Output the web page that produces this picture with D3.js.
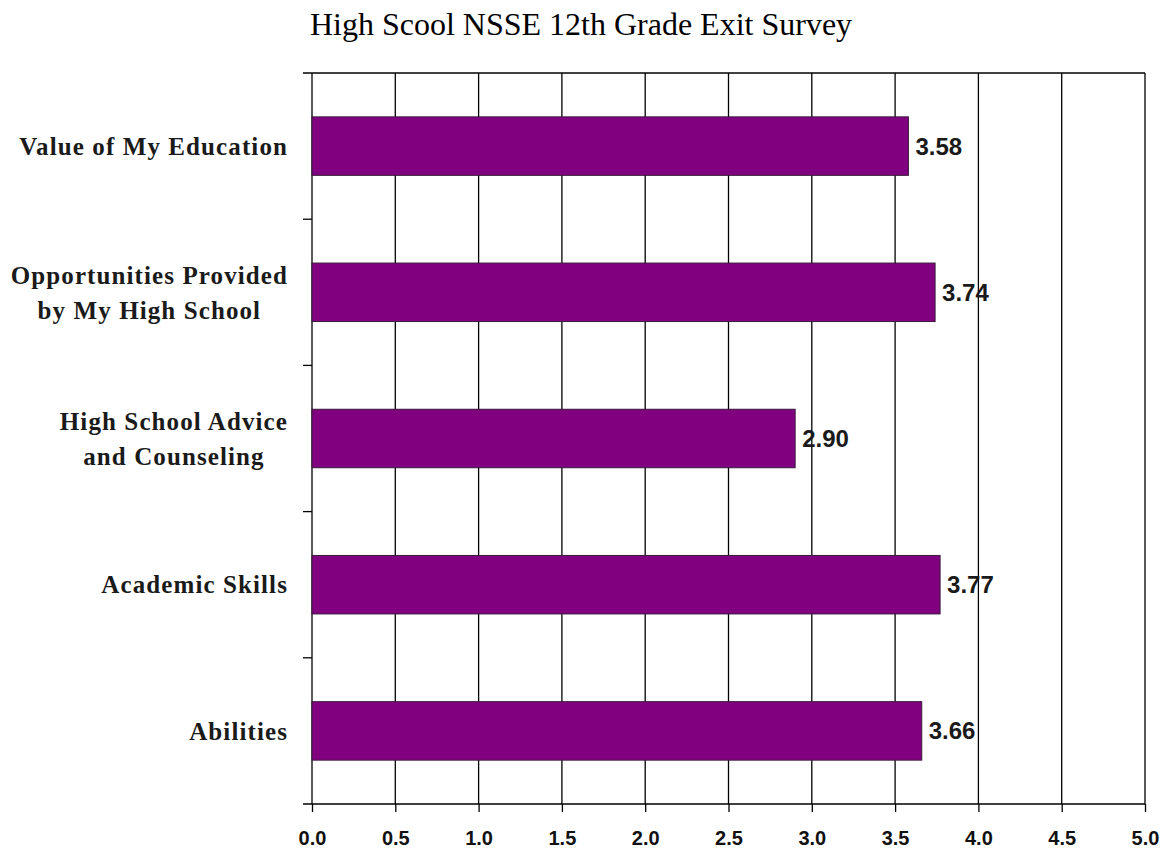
<html>
  <head>
    <script src="https://d3js.org/d3.v7.min.js"></script>
    <style>
      body { margin: 0; background: #fff; }
    </style>
  </head>
  <body>
    <div id="vis"></div>
  </body>
  <script>
    // Chart data
    var categories = [
      ["Value of My Education"],
      ["Opportunities Provided", "by My High School"],
      ["High School Advice", "and Counseling"],
      ["Academic Skills"],
      ["Abilities"]
    ]
    var values = [3.58, 3.74, 2.90, 3.77, 3.66]
    var xTicks = [0, 0.5, 1, 1.5, 2, 2.5, 3, 3.5, 4, 4.5, 5]
    var title = "High Scool NSSE 12th Grade Exit Survey"

    var width = 1167
    var height = 852
    var margin = {top: 73, right: 22, bottom: 48, left: 312}

    var svg = d3.select("#vis")
      .append("svg")
      .attr("width", width)
      .attr("height", height)

    var x = d3.scaleLinear()
      .domain([0, 5])
      .range([margin.left, 1145])

    var y = d3.scaleBand()
      .domain(d3.range(categories.length))
      .range([margin.top, 804])
      .paddingInner(0.6)
      .paddingOuter(0.3)

    // band edges for left ticks
    var step = (804 - margin.top) / categories.length

    // Title
    svg.append("text")
      .text(title)
      .attr("x", 581)
      .attr("y", 35)
      .attr("text-anchor", "middle")
      .attr("font-family", '"Liberation Serif", "Times New Roman", serif')
      .attr("font-size", 32)
      .attr("fill", "#000")

    // vertical grid lines
    svg.append("g")
      .selectAll("line")
      .data(xTicks.slice(1))
      .join("line")
      .attr("x1", d => x(d))
      .attr("x2", d => x(d))
      .attr("y1", margin.top)
      .attr("y2", 804)
      .attr("stroke", "#000")
      .attr("stroke-width", 1.3)

    // top border
    svg.append("line")
      .attr("x1", margin.left - 9)
      .attr("x2", x(5))
      .attr("y1", margin.top)
      .attr("y2", margin.top)
      .attr("stroke", "#000")
      .attr("stroke-width", 1.3)

    // bottom axis
    var xAxis = svg.append("g")
      .attr("transform", "translate(0,804)")
      .call(d3.axisBottom(x).tickValues(xTicks).tickFormat(d3.format(".1f")).tickSize(8).tickPadding(19))
    xAxis.select(".domain").attr("d", "M" + (margin.left - 9) + ",0H" + x(5))
    xAxis.selectAll("line, path").attr("stroke", "#000").attr("stroke-width", 1.3)
    xAxis.selectAll("text")
      .attr("font-family", '"Liberation Sans", Arial, sans-serif')
      .attr("font-weight", "bold")
      .attr("font-size", 20)
      .attr("fill", "#111")

    // left axis with ticks at band boundaries
    var leftAxis = svg.append("g")
    leftAxis.append("line")
      .attr("x1", margin.left)
      .attr("x2", margin.left)
      .attr("y1", margin.top)
      .attr("y2", 804)
      .attr("stroke", "#000")
      .attr("stroke-width", 1.3)
    leftAxis.selectAll(".tk")
      .data(d3.range(1, categories.length))
      .join("line")
      .attr("class", "tk")
      .attr("x1", margin.left - 9)
      .attr("x2", margin.left)
      .attr("y1", d => margin.top + d * step)
      .attr("y2", d => margin.top + d * step)
      .attr("stroke", "#000")
      .attr("stroke-width", 1.3)

    // bars
    svg.append("g")
      .selectAll("rect")
      .data(values)
      .join("rect")
      .attr("x", x(0))
      .attr("y", (d, i) => y(i))
      .attr("width", d => x(d) - x(0))
      .attr("height", y.bandwidth())
      .attr("fill", "#800080")
      .attr("stroke", "#3a1a3a")
      .attr("stroke-width", 1)

    // value labels
    svg.append("g")
      .selectAll("text")
      .data(values)
      .join("text")
      .text(d => d.toFixed(2))
      .attr("x", d => x(d) + 7)
      .attr("y", (d, i) => y(i) + y.bandwidth() / 2)
      .attr("dy", "0.35em")
      .attr("font-family", '"Liberation Sans", Arial, sans-serif')
      .attr("font-weight", "bold")
      .attr("font-size", 24)
      .attr("fill", "#1a1a1a")

    // category labels
    var labelRight = 288
    var lineH = 35
    categories.forEach(function(lines, i) {
      var cy = y(i) + y.bandwidth() / 2
      var g = svg.append("g")
      var texts = g.selectAll("text")
        .data(lines)
        .join("text")
        .text(d => d)
        .attr("font-family", '"Liberation Serif", "Times New Roman", serif')
        .attr("font-weight", "bold")
        .attr("font-size", 25)
        .attr("letter-spacing", 1.1)
        .attr("fill", "#1a1a1a")
        .attr("text-anchor", "middle")
        .attr("dy", "0.35em")
        .attr("y", (d, j) => cy + (j - (lines.length - 1) / 2) * lineH)
      var maxW = 0
      texts.each(function() { maxW = Math.max(maxW, this.getComputedTextLength()) })
      texts.attr("x", labelRight - maxW / 2)
    })
  </script>
</html>
